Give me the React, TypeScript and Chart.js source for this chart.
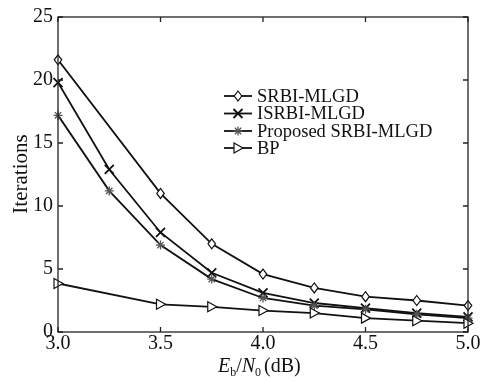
import React, { useEffect, useRef } from "react";
import { Chart, registerables } from "chart.js";

Chart.register(...registerables);

const xValues = [3.0, 3.25, 3.5, 3.75, 4.0, 4.25, 4.5, 4.75, 5.0];
const srbi = [21.6, null, 11.0, 7.0, 4.6, 3.5, 2.8, 2.5, 2.1];
const isrbi = [19.8, 12.9, 7.9, 4.7, 3.1, 2.3, 1.9, 1.5, 1.2];
const proposed = [17.2, 11.2, 6.9, 4.2, 2.7, 2.1, 1.8, 1.4, 1.1];
const bp = [3.85, null, 2.2, 2.0, 1.7, 1.5, 1.1, 0.9, 0.7];
const seriesNames = ["SRBI-MLGD", "ISRBI-MLGD", "Proposed SRBI-MLGD", "BP"];
const xTicks = [3.0, 3.5, 4.0, 4.5, 5.0];
const yTicks = [0, 5, 10, 15, 20, 25];

const SERIF = "'Liberation Serif', 'DejaVu Serif', serif";

type MarkerKind = "diamond" | "x" | "star" | "tri";
const markers: MarkerKind[] = ["diamond", "x", "star", "tri"];

function drawMarker(ctx: CanvasRenderingContext2D, kind: MarkerKind, x: number, y: number) {
  ctx.save();
  ctx.lineWidth = 1.2;
  ctx.strokeStyle = "#111";
  ctx.fillStyle = "#fff";
  ctx.beginPath();
  if (kind === "diamond") {
    const r = 5;
    ctx.moveTo(x, y - r);
    ctx.lineTo(x + r * 0.75, y);
    ctx.lineTo(x, y + r);
    ctx.lineTo(x - r * 0.75, y);
    ctx.closePath();
    ctx.fill();
    ctx.stroke();
  } else if (kind === "x") {
    const r = 4.5;
    ctx.lineWidth = 1.8;
    ctx.moveTo(x - r, y - r);
    ctx.lineTo(x + r, y + r);
    ctx.moveTo(x - r, y + r);
    ctx.lineTo(x + r, y - r);
    ctx.stroke();
  } else if (kind === "star") {
    const r = 4.5;
    ctx.strokeStyle = "#555";
    ctx.lineWidth = 1.3;
    for (let i = 0; i < 4; i++) {
      const a = (i * Math.PI) / 4;
      ctx.moveTo(x - r * Math.cos(a), y - r * Math.sin(a));
      ctx.lineTo(x + r * Math.cos(a), y + r * Math.sin(a));
    }
    ctx.stroke();
  } else {
    const r = 5;
    ctx.moveTo(x - r * 0.8, y - r);
    ctx.lineTo(x + r * 1.0, y);
    ctx.lineTo(x - r * 0.8, y + r);
    ctx.closePath();
    ctx.fill();
    ctx.stroke();
  }
  ctx.restore();
}

const decorPlugin = {
  id: "decor",
  afterDatasetsDraw(chart: any) {
    const ctx: CanvasRenderingContext2D = chart.ctx;
    const ca = chart.chartArea;
    const xs = chart.scales.x;
    const ys = chart.scales.y;
    // markers
    chart.data.datasets.forEach((ds: any, di: number) => {
      const meta = chart.getDatasetMeta(di);
      meta.data.forEach((pt: any, i: number) => {
        if (ds.data[i].y === null || ds.data[i].y === undefined) return;
        drawMarker(ctx, markers[di], pt.x, pt.y);
      });
    });
    ctx.save();
    // frame
    ctx.strokeStyle = "#222";
    ctx.lineWidth = 1.3;
    ctx.strokeRect(ca.left, ca.top, ca.right - ca.left, ca.bottom - ca.top);
    // inward ticks
    const tl = 5;
    ctx.beginPath();
    xTicks.forEach((v) => {
      const px = xs.getPixelForValue(v);
      ctx.moveTo(px, ca.bottom);
      ctx.lineTo(px, ca.bottom - tl);
      ctx.moveTo(px, ca.top);
      ctx.lineTo(px, ca.top + tl);
    });
    yTicks.forEach((v) => {
      const py = ys.getPixelForValue(v);
      ctx.moveTo(ca.left, py);
      ctx.lineTo(ca.left + tl, py);
      ctx.moveTo(ca.right, py);
      ctx.lineTo(ca.right - tl, py);
    });
    ctx.stroke();

    // legend
    const lx0 = 224, lx1 = 252, tx = 257;
    const rows = [96, 113.5, 131, 148];
    ctx.font = `18.5px ${SERIF}`;
    ctx.fillStyle = "#111";
    ctx.textBaseline = "middle";
    ctx.textAlign = "left";
    seriesNames.forEach((name, i) => {
      const y = rows[i];
      ctx.strokeStyle = "#111";
      ctx.lineWidth = 1.8;
      ctx.beginPath();
      ctx.moveTo(lx0, y);
      ctx.lineTo(lx1, y);
      ctx.stroke();
      drawMarker(ctx, markers[i], (lx0 + lx1) / 2, y);
      ctx.fillStyle = "#111";
      ctx.fillText(name, tx, y + 1);
    });

    // x axis title: E_b/N_0 (dB)
    ctx.textBaseline = "alphabetic";
    let x = 218;
    const base = 372;
    ctx.font = `italic 20px ${SERIF}`;
    ctx.fillText("E", x, base);
    x += ctx.measureText("E").width;
    ctx.font = `12px ${SERIF}`;
    ctx.fillText("b", x, base + 4);
    x += ctx.measureText("b").width;
    ctx.font = `20px ${SERIF}`;
    ctx.fillText("/", x, base);
    x += ctx.measureText("/").width;
    ctx.font = `italic 20px ${SERIF}`;
    ctx.fillText("N", x, base);
    x += ctx.measureText("N").width;
    ctx.font = `12px ${SERIF}`;
    ctx.fillText("0", x, base + 4);
    x += ctx.measureText("0").width + 3;
    ctx.font = `20px ${SERIF}`;
    ctx.fillText("(dB)", x, base);

    // y axis title
    ctx.translate(21, 174);
    ctx.rotate(-Math.PI / 2);
    ctx.textAlign = "center";
    ctx.textBaseline = "middle";
    ctx.font = `21px ${SERIF}`;
    ctx.fillText("Iterations", 0, 0);
    ctx.restore();
  },
};

export default function App() {
  const ref = useRef<HTMLCanvasElement | null>(null);
  useEffect(() => {
    document.body.style.margin = "0";
    const mk = (arr: (number | null)[]) =>
      xValues.map((x, i) => ({ x, y: arr[i] })).filter((p) => p.y !== null);
    const lists = [srbi, isrbi, proposed, bp];
    const chart = new Chart(ref.current!, {
      type: "line",
      data: {
        datasets: lists.map((arr, i) => ({
          label: seriesNames[i],
          data: mk(arr) as any,
          borderColor: "#111",
          borderWidth: 1.8,
          pointRadius: 0,
          pointHoverRadius: 0,
          tension: 0,
          fill: false,
        })),
      },
      options: {
        animation: false,
        responsive: false,
        events: [],
        layout: { padding: { top: 14, right: 20, left: 0, bottom: 0 } },
        plugins: { legend: { display: false }, tooltip: { enabled: false } },
        scales: {
          x: {
            type: "linear",
            min: 3,
            max: 5,
            afterFit: (s: any) => { s.height = 49; },
            afterBuildTicks: (s: any) => { s.ticks = xTicks.map((v) => ({ value: v })); },
            grid: { display: false, drawTicks: false },
            border: { display: false },
            ticks: {
              padding: 0,
              color: "#111",
              font: { family: SERIF, size: 20 },
              callback: (v: any) => Number(v).toFixed(1),
              maxRotation: 0,
            },
          },
          y: {
            min: 0,
            max: 25,
            afterFit: (s: any) => { s.width = 58; },
            afterBuildTicks: (s: any) => { s.ticks = yTicks.map((v) => ({ value: v })); },
            grid: { display: false, drawTicks: false },
            border: { display: false },
            ticks: {
              padding: 5,
              color: "#111",
              font: { family: SERIF, size: 20 },
            },
          },
        },
      },
      plugins: [decorPlugin],
    });
    return () => chart.destroy();
  }, []);
  return (
    <div style={{ width: 488, height: 381, background: "#fff" }}>
      <canvas ref={ref} width={488} height={381} style={{ display: "block" }} />
    </div>
  );
}
